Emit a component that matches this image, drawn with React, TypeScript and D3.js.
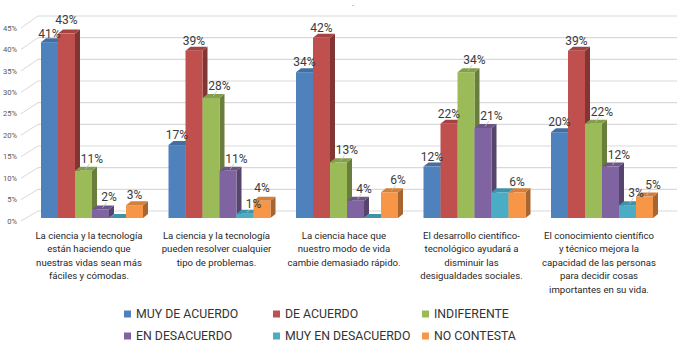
import React from "react";
import * as d3 from "d3";

// category labels (already split in lines like the original)
const categories = [
  ["La ciencia y la tecnología", "están haciendo que", "nuestras vidas sean más", "fáciles y cómodas."],
  ["La ciencia y la tecnología", "pueden resolver cualquier", "tipo de problemas."],
  ["La ciencia hace que", "nuestro modo de vida", "cambie demasiado rápido."],
  ["El desarrollo científico-", "tecnológico ayudará a", "disminuir las", "desigualdades sociales."],
  ["El conocimiento científico", "y técnico mejora la", "capacidad de las personas", "para decidir cosas", "importantes en su vida."],
];

const seriesNames = ["MUY DE ACUERDO", "DE ACUERDO", "INDIFERENTE", "EN DESACUERDO", "MUY EN DESACUERDO", "NO CONTESTA"];
const seriesColors = ["#4F81BD", "#C0504D", "#9BBB59", "#8064A2", "#4BACC6", "#F79646"];

const muyDeAcuerdo = [41, 17, 34, 12, 20];
const deAcuerdo = [43, 39, 42, 22, 39];
const indiferente = [11, 28, 13, 34, 22];
const enDesacuerdo = [2, 11, 4, 21, 12];
const muyEnDesacuerdo = [0, 1, 0, 6, 3];
const noContesta = [3, 4, 6, 6, 5];
const seriesValues = [muyDeAcuerdo, deAcuerdo, indiferente, enDesacuerdo, muyEnDesacuerdo, noContesta];

const yTicks = [0, 5, 10, 15, 20, 25, 30, 35, 40, 45];

// labels Excel hid -- [series, group]
const hiddenLabels = [[4, 0], [4, 2], [4, 3]];
// labels Excel moved aside (drawn with a leader line) -- [series, group]
const movedLabels = [[2, 0], [3, 0], [2, 1], [3, 1], [4, 1], [2, 2], [3, 2], [5, 2], [2, 3], [3, 3], [2, 4], [3, 4], [4, 4], [5, 4]];
// a few hand nudges of the label baseline: [series, group, dy]
const labelDy = [[0, 0, -4], [1, 0, -10], [4, 1, -5.5], [5, 1, -8.5]];

const W = 685;
const H = 350;
const FONT = "Roboto, 'Liberation Sans', sans-serif";
const DX = 5; // bar depth
const DY = -4;

const has = (list: number[][], s: number, g: number) => list.some((p) => p[0] === s && p[1] === g);

export default function App() {
  const x = d3.scaleBand<number>().domain(d3.range(categories.length)).range([41, 653]).paddingInner(0.2).paddingOuter(0);
  const xs = d3.scaleBand<number>().domain(d3.range(seriesNames.length)).range([0, x.bandwidth()]);

  const y = d3.scaleLinear().domain([0, 45]).range([218, 25]); // bars
  const yFront = d3.scaleLinear().domain([0, 45]).range([221, 28]); // axis labels
  const yBack = d3.scaleLinear().domain([0, 45]).range([211, 16]); // back wall

  const bars: React.ReactNode[] = [];
  const labels: React.ReactNode[] = [];

  categories.forEach((_, g) => {
    seriesValues.forEach((vals, s) => {
      const v = vals[g];
      const x0 = (x(g) as number) + (xs(s) as number);
      const x1 = x0 + xs.bandwidth();
      const yt = y(v);
      const yb = y(0);
      const c = seriesColors[s];
      const top = d3.color(c)!.darker(0.45).formatHex();
      const side = d3.color(c)!.darker(1.1).formatHex();
      bars.push(
        <g key={`b${g}-${s}`}>
          <polygon points={`${x1},${yt} ${x1 + DX},${yt + DY} ${x1 + DX},${yb + DY} ${x1},${yb}`} fill={side} />
          <polygon points={`${x0},${yt} ${x0 + DX},${yt + DY} ${x1 + DX},${yt + DY} ${x1},${yt}`} fill={top} />
          <rect x={x0} y={yt} width={x1 - x0} height={yb - yt} fill={c} />
        </g>
      );
      if (has(hiddenLabels, s, g)) return;
      const cx = (x0 + x1) / 2;
      const moved = has(movedLabels, s, g);
      const nudge = labelDy.find((p) => p[0] === s && p[1] === g);
      const lx = moved ? cx + 8.5 : cx;
      const ly = yt + (nudge ? nudge[2] : moved ? -8 : -6);
      labels.push(
        <g key={`l${g}-${s}`}>
          {moved && <line x1={cx + 2} y1={yt - 1.5} x2={cx + 6} y2={ly + 1} stroke="#bfbfbf" strokeWidth={0.8} />}
          <text x={lx} y={ly} textAnchor="middle" fontSize={12} fill="#3a3a3a">
            {v}%
          </text>
        </g>
      );
    });
  });

  const legendCols = [124, 273, 422];
  const legendRows = [314, 336];

  return (
    <svg width={W} height={H} style={{ position: "absolute", left: 0, top: 0, background: "#fff" }} fontFamily={FONT}>
      <rect width={W} height={H} fill="#fff" />
      <text x={353} y={8} textAnchor="middle" fontSize={7} fill="#7f7f7f">-</text>

      {/* back wall grid + side wall diagonals */}
      {yTicks.map((t) => (
        <g key={`g${t}`}>
          <line x1={38} x2={677} y1={yBack(t)} y2={yBack(t)} stroke="#d9d9d9" strokeWidth={1.2} />
          <line x1={21} x2={38} y1={yFront(t)} y2={yBack(t)} stroke="#d9d9d9" strokeWidth={1} />
          <text x={17} y={yFront(t)} dy="0.35em" textAnchor="end" fontSize={7.6} fill="#595959">
            {t}%
          </text>
        </g>
      ))}

      {bars}
      {labels}

      {/* category labels */}
      {categories.map((lines, g) => (
        <text key={`c${g}`} textAnchor="middle" fontSize={9.6} fill="#1f1f1f">
          {lines.map((ln, i) => (
            <tspan key={i} x={(x(g) as number) + x.bandwidth() / 2 - 3} y={239 + i * 13.4}>
              {ln}
            </tspan>
          ))}
        </text>
      ))}

      {/* legend */}
      {seriesNames.map((name, i) => {
        const lx = legendCols[i % 3];
        const ly = legendRows[Math.floor(i / 3)];
        return (
          <g key={`lg${i}`}>
            <rect x={lx} y={ly - 3.5} width={7} height={7} fill={seriesColors[i]} />
            <text x={lx + 12} y={ly} dy="0.36em" fontSize={12.3} fill="#333">
              {name}
            </text>
          </g>
        );
      })}
    </svg>
  );
}
